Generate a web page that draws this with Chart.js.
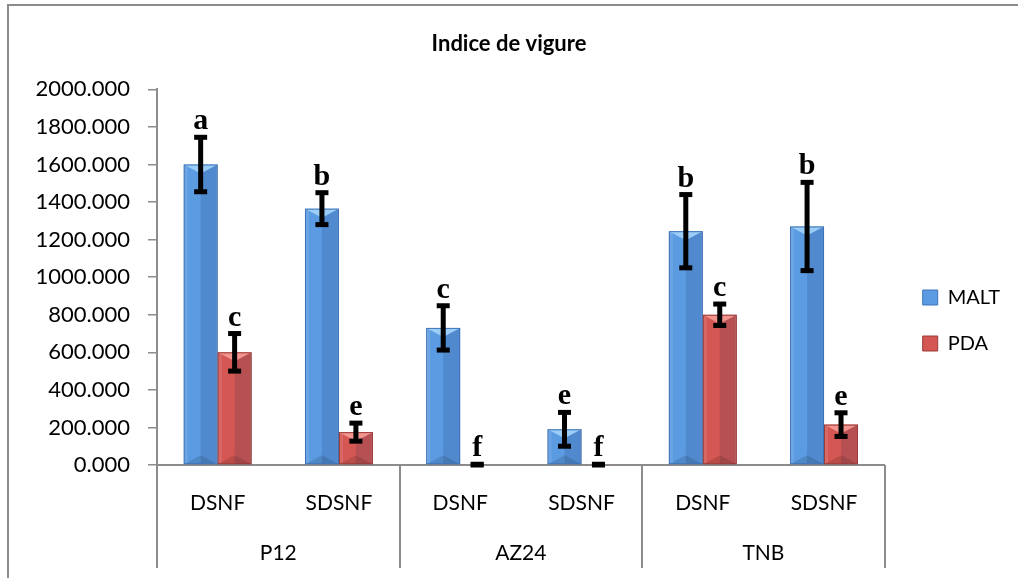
<!DOCTYPE html>
<html>
<head>
<meta charset="utf-8">
<title>Indice de vigure</title>
<script src="https://cdn.jsdelivr.net/npm/chart.js@4.4.1/dist/chart.umd.min.js"></script>
<style>
  html, body { margin: 0; padding: 0; background: #fff; overflow: hidden; }
  .wrap { position: relative; width: 1018px; height: 578px; }
  .frame { position: absolute; left: 7px; top: 4px; width: 1100px; height: 700px;
           border: 2px solid #8c8c8c; box-sizing: border-box; }
  canvas { position: absolute; left: 0; top: 0; }
</style>
</head>
<body>
<div class="wrap">
  <div class="frame"></div>
  <canvas id="chart" width="1018" height="578"></canvas>
</div>
<script>
/* ── Indice de vigure : MALT vs PDA par souche / traitement ── */

const groups = ['P12', 'AZ24', 'TNB'];
const treatments = ['DSNF', 'SDSNF', 'DSNF', 'SDSNF', 'DSNF', 'SDSNF'];

const maltValues  = [1600, 1365, 730, 190, 1245, 1270];
const maltErrors  = [145, 85, 118, 90, 195, 235];
const maltLetters = ['a', 'b', 'c', 'e', 'b', 'b'];

const pdaValues  = [600, 175, 2, 2, 800, 215];
const pdaErrors  = [100, 48, 2, 2, 57, 63];
const pdaLetters = ['c', 'e', 'f', 'f', 'c', 'e'];

const yMin = 0, yMax = 2000, yStep = 200;

const COLORS = {
  axis: '#8c8c8c',
  text: '#000000',
  malt: '#5b9be2', maltEdge: '#3f74b8', maltLight: '#9ccdf6',
  pda:  '#d45753', pdaEdge:  '#9c3b39', pdaLight:  '#f2958f',
};

Chart.defaults.font.family = "Lato, 'Open Sans', sans-serif";
Chart.defaults.color = COLORS.text;

// bevelled look on top of the flat bars
const bevel = {
  id: 'bevel',
  afterDatasetsDraw(chart) {
    const ctx = chart.ctx;
    chart.data.datasets.forEach((ds, i) => {
      chart.getDatasetMeta(i).data.forEach(bar => {
        const { x, y, base, width } = bar.getProps(['x', 'y', 'base', 'width'], true);
        const l = x - width / 2, r = x + width / 2, h = base - y;
        if (h <= 1) return;
        const b = Math.min(9, h / 2);
        ctx.save();
        ctx.fillStyle = 'rgba(20,40,90,0.15)';
        ctx.fillRect(x, y, r - x, h);
        ctx.fillStyle = 'rgba(255,255,255,0.10)';
        ctx.fillRect(l, y, 4, h);
        ctx.fillStyle = ds.bevelLight;
        ctx.beginPath();
        ctx.moveTo(l, y); ctx.lineTo(r, y); ctx.lineTo(x, y + b);
        ctx.closePath(); ctx.fill();
        ctx.fillStyle = 'rgba(0,0,0,0.12)';
        ctx.beginPath();
        ctx.moveTo(l, base); ctx.lineTo(r, base); ctx.lineTo(x, base - b);
        ctx.closePath(); ctx.fill();
        ctx.strokeStyle = ds.borderColor;
        ctx.lineWidth = 1;
        ctx.strokeRect(l + 0.5, y + 0.5, width - 1, h - 1);
        ctx.restore();
      });
    });
  }
};

// error bars + significance letters
const errorBars = {
  id: 'errorBars',
  afterDatasetsDraw(chart) {
    const { ctx, scales: { y } } = chart;
    ctx.save();
    ctx.fillStyle = '#000';
    ctx.font = "bold 30px 'Liberation Serif', 'Times New Roman', serif";
    ctx.textAlign = 'center';
    ctx.textBaseline = 'alphabetic';
    chart.data.datasets.forEach((ds, i) => {
      chart.getDatasetMeta(i).data.forEach((bar, j) => {
        const v = ds.data[j], e = ds.errors[j];
        const top = y.getPixelForValue(v + e);
        const bot = y.getPixelForValue(Math.max(yMin, v - e));
        ctx.fillRect(bar.x - 2.5, top, 5, bot - top);
        ctx.fillRect(bar.x - 6.5, top - 2.5, 13, 5);
        ctx.fillRect(bar.x - 6.5, bot - 2.5, 13, 5);
        ctx.fillText(ds.letters[j], bar.x, top - 8);
      });
    });
    ctx.restore();
  }
};

// second level of the category axis (strain names + separators)
const groupAxis = {
  id: 'groupAxis',
  afterDraw(chart) {
    const { ctx, chartArea, scales: { x } } = chart;
    const per = treatments.length / groups.length;
    ctx.save();
    ctx.strokeStyle = COLORS.axis;
    ctx.lineWidth = 2;
    for (let g = 0; g <= groups.length; g++) {
      const px = Math.round(x.getPixelForValue(g * per - 0.5));
      ctx.beginPath();
      ctx.moveTo(px, chartArea.bottom);
      ctx.lineTo(px, chartArea.bottom + 103);
      ctx.stroke();
    }
    ctx.fillStyle = COLORS.text;
    ctx.font = "21px Lato, 'Open Sans', sans-serif";
    ctx.textAlign = 'center';
    ctx.textBaseline = 'middle';
    groups.forEach((name, g) => {
      const a = x.getPixelForValue(g * per - 0.5);
      const b = x.getPixelForValue((g + 1) * per - 0.5);
      ctx.fillText(name, (a + b) / 2, chartArea.bottom + 88);
    });
    ctx.restore();
  }
};

// push the legend block a little into the right margin
const legendShift = {
  id: 'legendShift',
  afterLayout(chart) {
    const lg = chart.legend;
    lg.left += 12; lg.right += 12;
    lg.top += 16; lg.bottom += 16;
  }
};

new Chart(document.getElementById('chart'), {
  type: 'bar',
  data: {
    labels: treatments,
    datasets: [
      {
        label: 'MALT',
        data: maltValues,
        errors: maltErrors,
        letters: maltLetters,
        backgroundColor: COLORS.malt,
        borderColor: COLORS.maltEdge,
        borderWidth: 1,
        bevelLight: COLORS.maltLight,
      },
      {
        label: 'PDA',
        data: pdaValues,
        errors: pdaErrors,
        letters: pdaLetters,
        backgroundColor: COLORS.pda,
        borderColor: COLORS.pdaEdge,
        borderWidth: 1,
        bevelLight: COLORS.pdaLight,
      }
    ]
  },
  options: {
    responsive: false,
    animation: false,
    datasets: { bar: { categoryPercentage: 0.56, barPercentage: 1.0 } },
    layout: { padding: { left: 20, right: 20, top: 31, bottom: 0 } },
    plugins: {
      title: {
        display: true,
        text: 'Indice de vigure',
        color: COLORS.text,
        font: { size: 22, weight: 'bold' },
        padding: { top: 0, bottom: 32 }
      },
      legend: {
        position: 'right',
        labels: {
          boxWidth: 15,
          boxHeight: 15,
          padding: 26,
          color: COLORS.text,
          font: { size: 20 }
        }
      },
      tooltip: { enabled: false }
    },
    scales: {
      x: {
        grid: { display: false },
        border: { color: COLORS.axis, width: 2 },
        ticks: { color: COLORS.text, font: { size: 21 }, padding: 18, autoSkip: false, maxRotation: 0 },
        afterFit: s => { s.height = 113; }
      },
      y: {
        min: yMin,
        max: yMax,
        grid: { drawOnChartArea: false, drawTicks: true, tickLength: 9, color: COLORS.axis, lineWidth: 1.5 },
        border: { color: COLORS.axis, width: 2 },
        ticks: { stepSize: yStep, color: COLORS.text, font: { size: 22 }, padding: 18, callback: v => v.toFixed(3) },
        afterFit: s => { s.width = 137; }
      }
    }
  },
  plugins: [bevel, errorBars, groupAxis, legendShift]
});
</script>
</body>
</html>
